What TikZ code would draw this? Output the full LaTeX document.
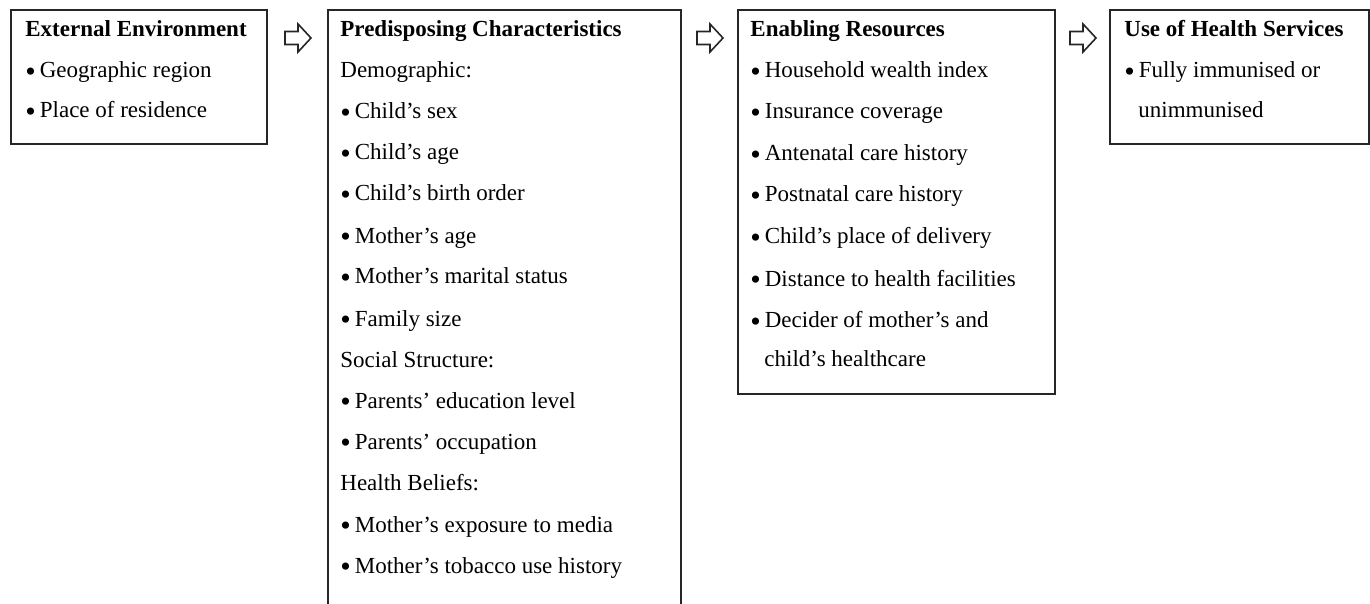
\documentclass[tikz,border=0pt]{standalone}
\usepackage{graphicx}
\usepackage{fontspec}
\setmainfont{Liberation Serif}
\begin{document}
\begin{tikzpicture}[x=0.5pt,y=-0.5pt,
 box/.style={draw=black!85,line width=1pt,inner sep=0pt,anchor=north west},
 txt/.style={anchor=base west,inner sep=0pt,font=\fontsize{11.5}{14}\selectfont},
 ttl/.style={anchor=base west,inner sep=0pt,font=\fontsize{11.5}{14}\selectfont\bfseries},
 openarrow/.pic={\draw[line width=0.8pt,black!85,line join=miter] (0,-6.5) -- (13,-6.5) -- (13,-14) -- (26,0) -- (13,14) -- (13,6.5) -- (0,6.5) -- cycle;}]
\clip (0,0) rectangle (1370,604);
\fill[white] (0,0) rectangle (1370,604);
\newcommand{\bul}{\raisebox{-1.6pt}{\scalebox{1.3}{•}}\hspace{2pt}}
% boxes
\node[box,minimum width=128pt,minimum height=67pt] (b1) at (10,9) {};
\node[box,minimum width=176.5pt,minimum height=305.5pt] (b2) at (327,9) {};
\node[box,minimum width=158.5pt,minimum height=192pt] (b3) at (737,9) {};
\node[box,minimum width=129.5pt,minimum height=67pt] (b4) at (1109,9) {};
% arrows
\pic at (285,38) {openarrow};
\pic at (697,38) {openarrow};
\pic at (1070,38) {openarrow};
% box 1
\node[ttl] (t1) at (25,37) {External Environment};
\node[txt] (t1a) at (25,78) {\bul Geographic region};
\node[txt] (t1b) at (25,118) {\bul Place of residence};
% box 2
\node[ttl] (t2) at (340,37) {Predisposing Characteristics};
\node[txt] (t2a) at (340,78) {Demographic:};
\node[txt] (t2b) at (340,119) {\bul Child’s sex};
\node[txt] (t2c) at (340,160) {\bul Child’s age};
\node[txt] (t2d) at (340,201) {\bul Child’s birth order};
\node[txt] (t2e) at (340,243) {\bul Mother’s age};
\node[txt] (t2f) at (340,284) {\bul Mother’s marital status};
\node[txt] (t2g) at (340,326) {\bul Family size};
\node[txt] (t2h) at (340,367) {Social Structure:};
\node[txt] (t2i) at (340,408) {\bul Parents’ education level};
\node[txt] (t2j) at (340,449) {\bul Parents’ occupation};
\node[txt] (t2k) at (340,490) {Health Beliefs:};
\node[txt] (t2l) at (340,532) {\bul Mother’s exposure to media};
\node[txt] (t2m) at (340,573) {\bul Mother’s tobacco use history};
% box 3
\node[ttl] (t3) at (750,37) {Enabling Resources};
\node[txt] (t3a) at (750,78) {\bul Household wealth index};
\node[txt] (t3b) at (750,119) {\bul Insurance coverage};
\node[txt] (t3c) at (750,161) {\bul Antenatal care history};
\node[txt] (t3d) at (750,202) {\bul Postnatal care history};
\node[txt] (t3e) at (750,244) {\bul Child’s place of delivery};
\node[txt] (t3f) at (750,286) {\bul Distance to health facilities};
\node[txt] (t3g) at (750,328) {\bul Decider of mother’s and};
\node[txt] (t3h) at (764,366) {child’s healthcare};
% box 4
\node[ttl] (t4) at (1124,37) {Use of Health Services};
\node[txt] (t4a) at (1124,78) {\bul Fully immunised or};
\node[txt] (t4b) at (1138,118) {unimmunised};
\end{tikzpicture}
\end{document}
